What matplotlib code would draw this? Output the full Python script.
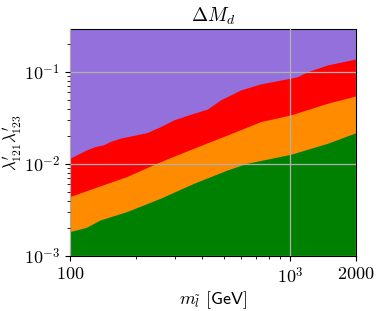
import matplotlib
matplotlib.use('Agg')
import matplotlib.pyplot as plt
import numpy as np

plt.rcParams['mathtext.fontset'] = 'cm'
plt.rcParams['font.family'] = 'serif'
plt.rcParams['font.serif'] = ['cmr10', 'DejaVu Serif']
plt.rcParams['axes.formatter.use_mathtext'] = True

# boundary between purple (excluded) and red
m_red = [100, 119, 130, 142, 152, 169, 224, 258, 296, 366, 421, 484, 598, 737, 1011, 1085, 1205, 1486, 2000]
lam_red = [0.01154, 0.01419, 0.01542, 0.01611, 0.01746, 0.01901, 0.02188, 0.02541, 0.03006, 0.03556,
           0.03936, 0.04966, 0.06368, 0.07413, 0.08551, 0.08892, 0.1007, 0.1191, 0.1384]

# boundary between red and orange
m_orange = [100, 128, 181, 258, 366, 520, 737, 1011, 1486, 2000]
lam_orange = [0.00442, 0.00545, 0.00728, 0.01059, 0.01483, 0.02065, 0.02884, 0.03412, 0.04571, 0.05483]

# boundary between orange and green
m_green = [100, 119, 137, 181, 258, 366, 520, 641, 1011, 1486, 2000]
lam_green = [0.00184, 0.00205, 0.00246, 0.00303, 0.00424, 0.00617, 0.00861, 0.01019, 0.01274, 0.01679, 0.02188]

xmin, xmax = 100, 2000
ymin, ymax = 1e-3, 0.293

fig = plt.figure(figsize=(3.8, 3.11), dpi=100)
ax = fig.add_axes([0.184, 0.177, 0.753, 0.730])

ax.fill_between([xmin, xmax], ymin, ymax, color='#9370DB', lw=0)
ax.fill_between(m_red, ymin, lam_red, color='#FF0000', lw=0)
ax.fill_between(m_orange, ymin, lam_orange, color='#FF8C00', lw=0)
ax.fill_between(m_green, ymin, lam_green, color='#008000', lw=0)

ax.set_xscale('log')
ax.set_yscale('log')
ax.set_xlim(xmin, xmax)
ax.set_ylim(ymin, ymax)

ax.set_xticks([100, 1000, 2000])
ax.set_xticklabels(['$100$', '$10^3$', '$2000$'])
ax.set_yticks([1e-3, 1e-2, 1e-1])
ax.set_yticklabels(['$10^{-3}$', '$10^{-2}$', '$10^{-1}$'])
ax.tick_params(labelsize=13)
ax.grid(True, which='major', color='#b0b0b0', lw=0.9)
ax.set_axisbelow(False)

ax.set_xlabel(r'$m_{\tilde{l}}\ \mathsf{[GeV]}$', fontsize=13, labelpad=2)
ax.set_ylabel(r"$\lambda^{\prime}_{121}\lambda^{\prime}_{123}$", fontsize=12, labelpad=0)
ax.set_title(r'$\Delta M_d$', fontsize=14, pad=5)

fig.savefig('out.png', dpi=100)
